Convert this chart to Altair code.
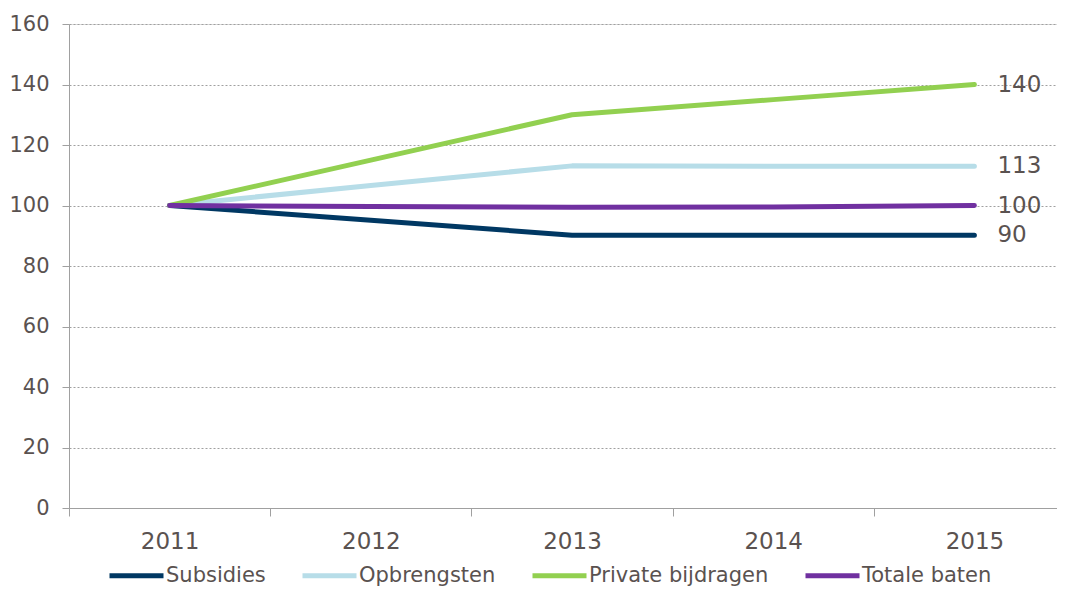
import altair as alt
import pandas as pd

years = ["2011", "2012", "2013", "2014", "2015"]
series_names = ["Subsidies", "Opbrengsten", "Private bijdragen", "Totale baten"]
subsidies = [100, 95.1, 90.2, 90.2, 90.2]
opbrengsten = [100, 106.6, 113.1, 113.0, 113.0]
private_bijdragen = [100, 115.0, 130.0, 135.0, 140.0]
totale_baten = [100, 99.7, 99.4, 99.5, 100.0]
end_labels = ["90", "113", "140", "100"]
colors = ["#003863", "#b7dde8", "#92d050", "#7030a0"]

values = [subsidies, opbrengsten, private_bijdragen, totale_baten]
rows = []
for name, vals, lab in zip(series_names, values, end_labels):
    for y, v in zip(years, vals):
        rows.append({"year": y, "series": name, "value": v,
                     "label": lab if y == years[-1] else ""})
df = pd.DataFrame(rows)

TXT = "#5a5250"
AX = "#a0a0a0"

x_enc = alt.X("year:O", bandPosition=0.5,
              scale=alt.Scale(type="band", paddingInner=0, paddingOuter=0, range=[0, 1006]),
              axis=alt.Axis(title=None, labelAngle=0, labelFontSize=23, labelColor=TXT,
                            tickBand="extent", tickSize=8, tickColor=AX, domainColor=AX,
                            labelPadding=14, grid=False, labelFont="DejaVu Sans"))
y_enc = alt.Y("value:Q",
              scale=alt.Scale(domain=[0, 160], nice=False),
              axis=alt.Axis(title=None, values=list(range(0, 161, 20)), labelFontSize=21,
                            labelColor=TXT, tickSize=7, tickColor=AX, domainColor=AX,
                            labelPadding=13, grid=True, gridColor=AX, gridDash=[2, 2],
                            gridWidth=1, labelFont="DejaVu Sans"))

color_enc = alt.Color("series:N", sort=series_names,
                      scale=alt.Scale(domain=series_names, range=colors),
                      legend=alt.Legend(title=None, orient="none", direction="horizontal",
                                        legendX=38, legendY=522, symbolType="stroke",
                                        symbolSize=2916, symbolStrokeWidth=5,
                                        labelFontSize=21, labelColor=TXT, labelOffset=0,
                                        columnPadding=26, labelFont="DejaVu Sans",
                                        labelLimit=400))

lines = alt.Chart(df).mark_line(strokeWidth=5, strokeCap="round", strokeJoin="round").encode(
    x=x_enc, y=y_enc, color=color_enc,
    order=alt.Order("year:O"))

labels = alt.Chart(df).transform_filter(alt.datum.label != "").mark_text(
    align="left", baseline="middle", dx=23, fontSize=23, color=TXT, font="DejaVu Sans"
).encode(x=x_enc, y=y_enc, text="label:N")

chart = alt.layer(lines, labels).properties(
    width=988, height=484,
    autosize=alt.AutoSizeParams(type="none"),
    padding={"left": 61, "top": 16, "right": 0, "bottom": 82},
).configure_view(stroke=None).configure(background="white")

chart.save("out.html", embed_options={"renderer": "svg", "actions": False})
